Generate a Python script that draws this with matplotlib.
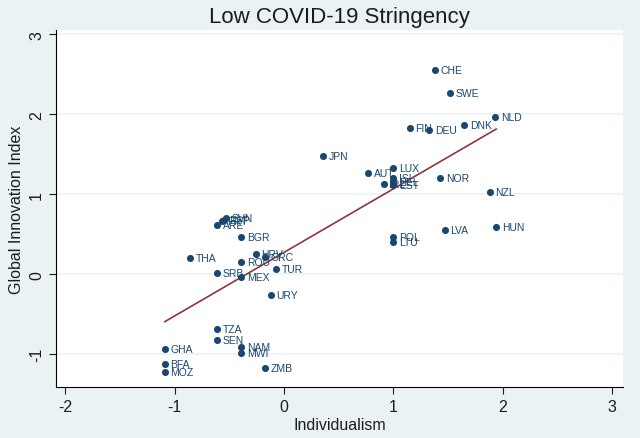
import numpy as np
import matplotlib
matplotlib.use("Agg")
import matplotlib.pyplot as plt

plt.rcParams['font.family'] = ['Liberation Sans', 'DejaVu Sans']
plt.rcParams['axes.unicode_minus'] = False

# country codes, individualism (x) and global innovation index (y)
countries = ['CHE', 'SWE', 'NLD', 'DNK', 'FIN', 'DEU', 'JPN', 'LUX', 'AUT', 'ISL',
             'BEL', 'EST', 'IRL', 'NOR', 'NZL', 'HUN', 'LVA', 'POL', 'LTU',
             'SVN', 'ESP', 'PRT', 'ARE', 'BGR', 'THA', 'HRV', 'GRC', 'ROU', 'TUR',
             'SRB', 'MEX', 'URY', 'TZA', 'SEN', 'GHA', 'NAM', 'MWI', 'BFA', 'MOZ', 'ZMB']
individualism = [1.38, 1.52, 1.93, 1.65, 1.15, 1.33, 0.36, 1.00, 0.77, 1.00,
                 1.00, 1.00, 0.91, 1.43, 1.88, 1.94, 1.47, 1.00, 1.00,
                 -0.53, -0.55, -0.57, -0.61, -0.39, -0.86, -0.26, -0.17, -0.39, -0.07,
                 -0.61, -0.39, -0.12, -0.61, -0.61, -1.09, -0.39, -0.39, -1.09, -1.09, -0.17]
innovation = [2.55, 2.27, 1.97, 1.86, 1.83, 1.80, 1.48, 1.33, 1.27, 1.20,
              1.15, 1.12, 1.13, 1.20, 1.03, 0.59, 0.55, 0.46, 0.40,
              0.70, 0.68, 0.66, 0.62, 0.46, 0.20, 0.25, 0.21, 0.15, 0.06,
              0.02, -0.04, -0.26, -0.68, -0.82, -0.93, -0.91, -0.99, -1.12, -1.22, -1.17]

bg = '#eaf2f3'
navy = '#1a476f'
maroon = '#90353b'
txt = '#1c1c1c'

fig = plt.figure(figsize=(6.4, 4.39), dpi=100, facecolor=bg)
ax = fig.add_axes([0.0875, 0.116, 0.886, 0.813])
ax.set_facecolor('white')

x = np.array(individualism)
y = np.array(innovation)
b, a = np.polyfit(x, y, 1)
xs = np.array([x.min(), x.max()])
ax.plot(xs, a + b * xs, color=maroon, lw=1.2, zorder=2)

ax.scatter(x, y, s=26, color=navy, zorder=3, linewidths=0)
for name, xi, yi in zip(countries, individualism, innovation):
    ax.annotate(name, (xi, yi), xytext=(4, 0), textcoords='offset points',
                va='center', ha='left', fontsize=7.5, color=navy, zorder=4)

ax.set_xlim(-2.085, 3.1)
ax.set_ylim(-1.41, 3.05)
ax.set_xticks([-2, -1, 0, 1, 2, 3])
ax.set_yticks([-1, 0, 1, 2, 3])
ax.yaxis.grid(True, color=bg, lw=1.2)
ax.set_axisbelow(True)
for side in ['top', 'right']:
    ax.spines[side].set_visible(False)
for side in ['left', 'bottom']:
    ax.spines[side].set_color('black')
    ax.spines[side].set_linewidth(0.8)
ax.tick_params(labelsize=11.5, length=5, width=0.8, colors=txt)
plt.setp(ax.get_yticklabels(), rotation=90, va='center')

ax.set_xlabel('Individualism', fontsize=11.5, color=txt, labelpad=2)
ax.set_ylabel('Global Innovation Index', fontsize=11.5, color=txt, labelpad=4)
ax.set_title('Low COVID-19 Stringency', fontsize=16, color=txt, pad=6)

fig.savefig('out.png', dpi=100, facecolor=bg)
